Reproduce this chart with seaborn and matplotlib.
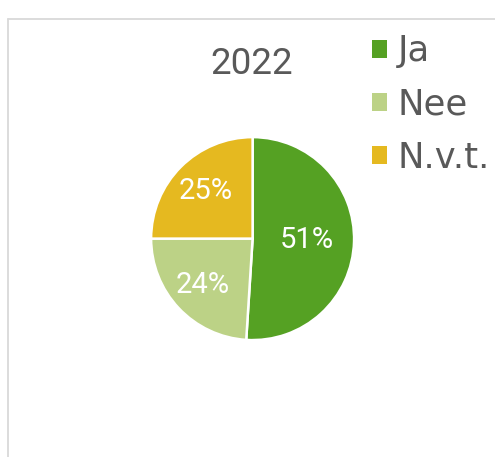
import numpy as np
import matplotlib
matplotlib.use("Agg")
import matplotlib.pyplot as plt
from matplotlib.patches import Patch
from matplotlib.lines import Line2D
import seaborn as sns

# data
categories = ["Ja", "Nee", "N.v.t."]
shares = [51, 24, 25]
colors = ["#55A123", "#BCD286", "#E5B920"]
label_dist = [0.53, 0.67, 0.66]   # radial position of each percentage label
title = "2022"

sns.set_theme(style="white")
plt.rcParams["font.family"] = ["Roboto", "DejaVu Sans"]

W, H = 495, 457
fig = plt.figure(figsize=(W / 100, H / 100), dpi=100)

# light grey frame lines (chart area border, partly cut off)
fig.add_artist(Line2D([7.5 / W, 7.5 / W], [0, 1 - 18.5 / H], color="#D9D9D9", lw=1.3))
fig.add_artist(Line2D([7.5 / W, 1], [1 - 18.5 / H, 1 - 18.5 / H], color="#D9D9D9", lw=1.3))

# pie axes, centre ~ (252.5, 238.5) px, radius ~102.5 px
cx, cy, r = 252.6, 238.6, 102.5
ax = fig.add_axes([(cx - r) / W, 1 - (cy + r) / H, 2 * r / W, 2 * r / H])
wedges, texts, autotexts = ax.pie(
    shares,
    colors=colors,
    startangle=90,
    counterclock=False,
    autopct=lambda p: f"{p:.0f}%",
    pctdistance=0.66,
    wedgeprops={"edgecolor": "white", "linewidth": 1.8},
    textprops={"color": "white", "fontsize": 21},
)
for t, d in zip(autotexts, label_dist):
    x, y = t.get_position()
    t.set_position((x * d / 0.66, y * d / 0.66))
ax.set_xlim(-1.01, 1.01)
ax.set_ylim(-1.01, 1.01)
ax.set_aspect("equal")
ax.axis("off")

fig.text(252 / W, 1 - 74 / H, title, ha="center", va="baseline",
         fontsize=26.5, color="#595959")

handles = [Patch(facecolor=c, edgecolor="none") for c in colors]
fig.legend(handles, categories, loc="upper left",
           bbox_to_anchor=(372 / W, 1 - 34.5 / H),
           frameon=False, labelcolor="#595959",
           prop={"family": "DejaVu Sans", "size": 25.5},
           handlelength=0.42, handleheight=0.42, handletextpad=0.3,
           labelspacing=0.54, borderpad=0, borderaxespad=0)

fig.savefig("out.png", dpi=100, facecolor="white")
